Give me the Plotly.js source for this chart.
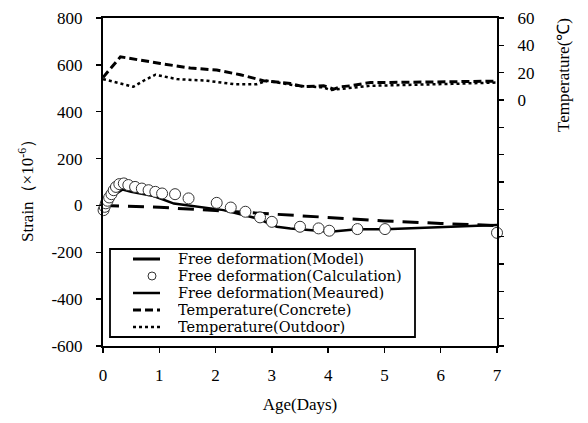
<!DOCTYPE html>
<html>
<head>
<meta charset="utf-8">
<script src="https://cdn.plot.ly/plotly-3.0.1.min.js"></script>
<style>html,body{margin:0;padding:0;background:#fff;}#chart{width:588px;height:423px;}</style>
</head>
<body>
<div id="chart"></div>
<script>
// Strain (x10^-6) series
var modelDays   = [0, 1, 2, 3, 4, 5, 6, 7];
var modelStrain = [0, -8, -22, -37, -52, -66, -77, -86];

var calcDays   = [0.01, 0.03, 0.05, 0.08, 0.11, 0.15, 0.19, 0.23, 0.29, 0.37, 0.45, 0.57, 0.69, 0.81, 0.93, 1.05, 1.28, 1.52, 2.02, 2.27, 2.53, 2.79, 3.0, 3.5, 3.83, 4.02, 4.52, 5.01, 7.0];
var calcStrain = [-20, -6, 9, 20, 34, 48, 65, 79, 91, 94, 87, 79, 72, 65, 58, 51, 48, 30, 11, -9, -27, -51, -70, -91, -98, -108, -101, -101, -117];

var measDays   = [0, 0.1, 0.35, 0.5, 0.9, 1.26, 2.14, 2.73, 3.09, 3.33, 4.04, 4.51, 5.01, 5.81, 7.0];
var measStrain = [0, 30, 68, 58, 40, 8, -20, -55, -91, -98, -112, -102, -102, -94, -84];

// Temperature (°C) series
var concDays = [0, 0.31, 1.02, 1.55, 2.02, 2.44, 2.85, 3.33, 3.56, 3.92, 4.1, 4.22, 4.4, 4.75, 5.5, 6.2, 7.0];
var concTemp = [16.5, 31.6, 26.7, 23.4, 21.9, 18.5, 14.1, 12.1, 9.7, 10.4, 8, 9.7, 10.4, 12.8, 13, 13.3, 13.8];

var outDays = [0, 0.54, 0.72, 0.93, 1.31, 1.85, 2.32, 2.73, 2.91, 3.45, 3.92, 4.04, 4.75, 5.5, 6.2, 7.0];
var outTemp = [15.3, 9.7, 14.1, 18.5, 15.3, 14.1, 11.6, 11.6, 14.1, 10.4, 9.2, 7.3, 10.4, 11, 11.8, 12.8];

// Ticks
var xTicks = [0, 1, 2, 3, 4, 5, 6, 7];
var yTicks = [-600, -400, -200, 0, 200, 400, 600, 800];
var yTickLabels = ['-600', '-400', '-200', '0', '200', '400', '600', '800'];
var y2Ticks = [0, 20, 40, 60];

// Legend labels (in reference order)
var legendLabels = ['Free deformation(Model)', 'Free deformation(Calculation)', 'Free deformation(Meaured)',
                    'Temperature(Concrete)', 'Temperature(Outdoor)'];

var serif = 'Liberation Serif, Times New Roman, serif';
var legendFont = 'DejaVu Serif, serif';

var styles = [
  {color: '#000', width: 3, dash: '16px,9px'},
  null,
  {color: '#000', width: 2.5},
  {color: '#000', width: 3, dash: '8px,4px'},
  {color: '#000', width: 2.5, dash: 'dot'}
];

var traces = [
  {x: modelDays, y: modelStrain, mode: 'lines', name: legendLabels[0], line: styles[0]},
  {x: measDays, y: measStrain, mode: 'lines', name: legendLabels[2], line: styles[2]},
  {x: concDays, y: concTemp, yaxis: 'y2', mode: 'lines', name: legendLabels[3], line: styles[3]},
  {x: outDays, y: outTemp, yaxis: 'y2', mode: 'lines', name: legendLabels[4], line: styles[4]},
  {x: calcDays, y: calcStrain, mode: 'markers', name: legendLabels[1], cliponaxis: false,
   marker: {symbol: 'circle', size: 11, color: '#fff', line: {color: '#333', width: 1}}}
];

// Plot area in pixels (from margins) -> paper coordinates helpers for the hand-built legend
var M = {l: 103, r: 91, t: 18, b: 77};
var W = 588, H = 423;
var PW = W - M.l - M.r, PH = H - M.t - M.b;
function px(x) { return (x - M.l) / PW; }
function py(y) { return (H - M.b - y) / PH; }

var boxL = 110, boxR = 415, boxT = 249, boxB = 337;
var rowY = [259, 276, 293, 310, 327];
var symL = 133, symR = 160, textX = 177;

var shapes = [
  {type: 'rect', xref: 'paper', yref: 'paper', x0: px(boxL), x1: px(boxR), y0: py(boxB), y1: py(boxT),
   line: {color: '#000', width: 1.8}, fillcolor: '#fff', layer: 'above'}
];
var annotations = [
  {text: 'Strain（×10<sup>-6</sup>）', xref: 'paper', yref: 'paper', x: px(26), y: py(187),
   xanchor: 'center', yanchor: 'middle', textangle: -90, showarrow: false, font: {size: 17, family: serif}},
  {text: 'Temperature(℃)', xref: 'paper', yref: 'paper', x: px(563), y: py(75),
   xanchor: 'center', yanchor: 'middle', textangle: -90, showarrow: false, font: {size: 17, family: serif}}
];
legendLabels.forEach(function (lab, i) {
  if (styles[i]) {
    var st = {color: styles[i].color, width: styles[i].width, dash: styles[i].dash || 'solid'};
    if (i === 0) st.dash = 'solid';
    shapes.push({type: 'line', xref: 'paper', yref: 'paper', x0: px(symL), x1: px(symR),
                 y0: py(rowY[i]), y1: py(rowY[i]), line: st, layer: 'above'});
  } else {
    shapes.push({type: 'circle', xref: 'paper', yref: 'paper', x0: px(148), x1: px(156),
                 y0: py(rowY[i] + 4), y1: py(rowY[i] - 4), line: {color: '#333', width: 1},
                 fillcolor: '#fff', layer: 'above'});
  }
  annotations.push({text: lab, xref: 'paper', yref: 'paper', x: px(textX), y: py(rowY[i]),
                    xanchor: 'left', yanchor: 'middle', showarrow: false, height: 16, borderpad: 0,
                    font: {family: legendFont, size: 14.5, color: '#000'}});
});

var layout = {
  width: W, height: H,
  margin: M,
  paper_bgcolor: '#fff', plot_bgcolor: '#fff',
  font: {family: serif, color: '#000', size: 17},
  showlegend: false,
  xaxis: {range: [0, 7], tickvals: xTicks, ticks: 'outside', ticklen: 5, tickwidth: 1.5, tickcolor: '#000',
          showline: true, linewidth: 2, linecolor: '#000', mirror: true,
          tickfont: {family: serif, size: 17},
          showgrid: false, zeroline: false, ticklabelstandoff: 8,
          title: {text: 'Age(Days)', font: {family: serif, size: 17}, standoff: 14}},
  yaxis: {range: [-600, 800], tickvals: yTicks, ticktext: yTickLabels, ticks: 'outside', ticklen: 5,
          tickwidth: 1.5, tickcolor: '#000', tickfont: {family: serif, size: 17},
          showline: true, linewidth: 2, linecolor: '#000',
          showgrid: false, zeroline: false, ticklabelstandoff: 10},
  yaxis2: {range: [-180, 60], overlaying: 'y', side: 'right', tickvals: y2Ticks,
           ticks: 'outside', ticklen: 5, tickwidth: 1.5, tickcolor: '#000', tickfont: {family: serif, size: 17},
           minor: {dtick: 20, tick0: 0, ticks: 'outside', ticklen: 5, tickwidth: 1.5, tickcolor: '#000'},
           showline: true, linewidth: 2, linecolor: '#000',
           showgrid: false, zeroline: false, ticklabelstandoff: 10},
  shapes: shapes,
  annotations: annotations
};

Plotly.newPlot('chart', traces, layout, {displayModeBar: false, staticPlot: true});
</script>
</body>
</html>
